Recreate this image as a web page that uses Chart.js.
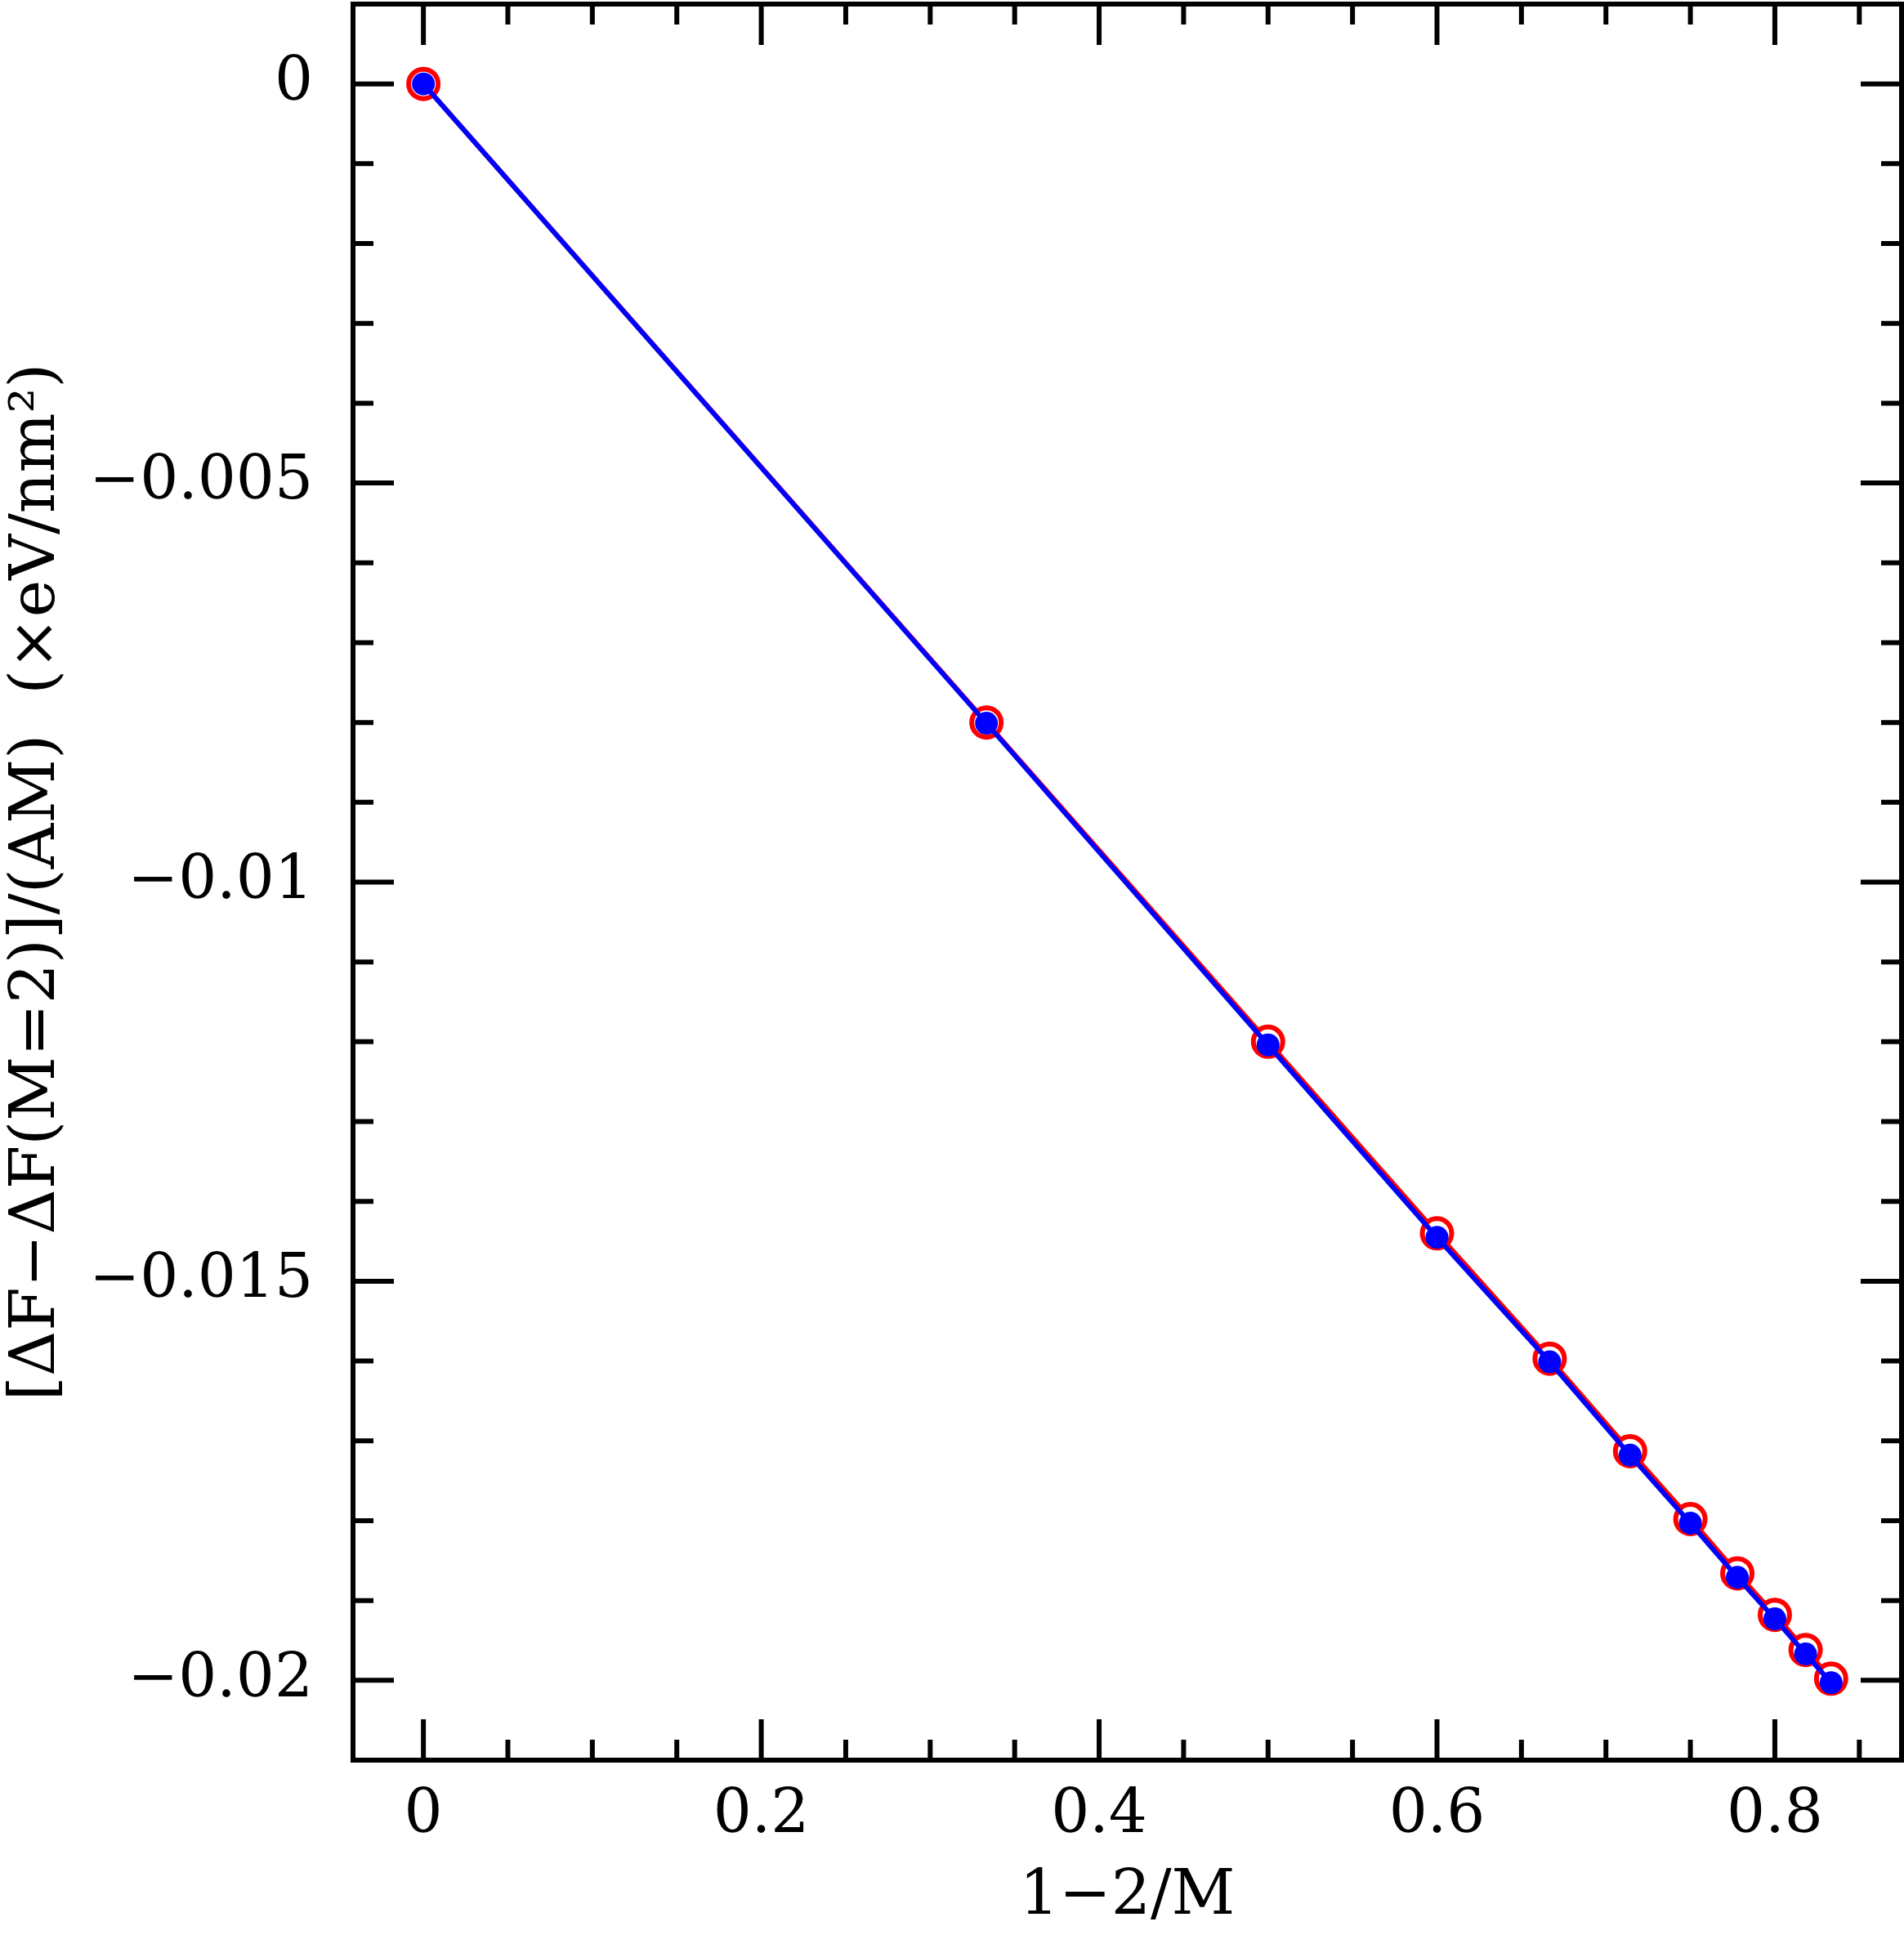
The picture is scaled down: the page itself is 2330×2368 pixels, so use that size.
<!DOCTYPE html>
<html>
<head>
<meta charset="utf-8">
<script src="https://cdn.jsdelivr.net/npm/chart.js@4.4.0/dist/chart.umd.min.js"></script>
<style>
html, body { margin: 0; padding: 0; background: #fff; }
#wrap { width: 2330px; height: 2368px; position: relative; }
</style>
</head>
<body>
<div id="wrap"><canvas id="chart"></canvas></div>
<script>
'use strict';

// data: x = 1-2/M for M = 2..12
var xValues = [0, 0.3333, 0.5, 0.6, 0.6667, 0.7143, 0.75, 0.7778, 0.8, 0.8182, 0.8333];
var redValues = [0, -0.00800, -0.01200, -0.01440, -0.01597, -0.01713, -0.01798, -0.01866, -0.01918, -0.01962, -0.01998];
var blueValues = [0, -0.00801, -0.01204, -0.01445, -0.01601, -0.01718, -0.01803, -0.01871, -0.01923, -0.01967, -0.02003];

var xTicks = [0, 0.2, 0.4, 0.6, 0.8];
var xTickLabels = ['0', '0.2', '0.4', '0.6', '0.8'];
var yTicks = [-0.02, -0.015, -0.01, -0.005, 0];
var yTickLabels = ['\u22120.02', '\u22120.015', '\u22120.01', '\u22120.005', '0'];

var xTitle = '1\u22122/M';
var yTitle = '[\u0394F\u2212\u0394F(M=2)]/(AM)  (\u00D7eV/nm\u00B2)';

var FONT = 'DejaVu Serif';

function points(ys) {
    return xValues.map(function (x, i) { return {x: x, y: ys[i]}; });
}

// ------------------------------------------------------- //
// frame and inward ticks on all four sides
// ------------------------------------------------------ //
var frameTicks = {
    id: 'frameTicks',
    afterDatasetsDraw: function (chart) {
        var ctx = chart.ctx, a = chart.chartArea;
        var xs = chart.scales.x, ys = chart.scales.y;
        var major = 50, minor = 25;
        ctx.save();
        ctx.strokeStyle = '#000';
        ctx.lineWidth = 6;
        ctx.lineCap = 'butt';

        function xTick(v, len) {
            var p = xs.getPixelForValue(v);
            ctx.beginPath();
            ctx.moveTo(p, a.bottom); ctx.lineTo(p, a.bottom - len);
            ctx.moveTo(p, a.top); ctx.lineTo(p, a.top + len);
            ctx.stroke();
        }
        function yTick(v, len) {
            var p = ys.getPixelForValue(v);
            ctx.beginPath();
            ctx.moveTo(a.left, p); ctx.lineTo(a.left + len, p);
            ctx.moveTo(a.right, p); ctx.lineTo(a.right - len, p);
            ctx.stroke();
        }

        var k, v;
        for (k = -1; k <= 18; k++) {
            v = k * 0.05;
            if (k % 4 === 0 || v <= xs.min || v >= xs.max) { continue; }
            xTick(v, minor);
        }
        xTicks.forEach(function (t) { xTick(t, major); });

        for (k = 0; k <= 21; k++) {
            v = -k * 0.001;
            if (k % 5 === 0 || v <= ys.min || v >= ys.max) { continue; }
            yTick(v, minor);
        }
        yTicks.forEach(function (t) { yTick(t, major); });

        ctx.lineJoin = 'miter';
        ctx.strokeRect(a.left, a.top, a.right - a.left, a.bottom - a.top);
        ctx.restore();
    }
};

function noPad(s) {
    s.paddingTop = 0;
    s.paddingBottom = 0;
    s.paddingLeft = 0;
    s.paddingRight = 0;
}

var CHART = document.getElementById('chart');
var myChart = new Chart(CHART, {
    type: 'scatter',
    plugins: [frameTicks],
    data: {
        datasets: [
            {
                label: 'blue',
                data: points(blueValues),
                showLine: true,
                order: 0,
                borderColor: '#0000ff',
                borderWidth: 6,
                pointRadius: 14,
                pointBorderWidth: 0,
                pointBackgroundColor: '#0000ff',
                pointBorderColor: '#0000ff'
            },
            {
                label: 'red',
                data: points(redValues),
                showLine: true,
                order: 1,
                borderColor: '#ff0000',
                borderWidth: 6,
                pointRadius: 18,
                pointBorderWidth: 6,
                pointBackgroundColor: '#ffffff',
                pointBorderColor: '#ff0000'
            }
        ]
    },
    options: {
        animation: false,
        responsive: true,
        maintainAspectRatio: false,
        layout: {autoPadding: false, padding: {top: 5, right: 3, left: 0, bottom: 0}},
        plugins: {
            legend: {display: false},
            tooltip: {enabled: false}
        },
        scales: {
            x: {
                type: 'linear',
                min: -0.04167,
                max: 0.875,
                grid: {display: false, drawTicks: false},
                border: {display: false},
                afterBuildTicks: function (s) {
                    s.ticks = xTicks.map(function (t) { return {value: t}; });
                },
                afterFit: function (s) { s.height = 214; noPad(s); },
                ticks: {
                    autoSkip: false,
                    maxRotation: 0,
                    color: '#000',
                    padding: 24,
                    font: {family: FONT, size: 74},
                    callback: function (val, i) { return xTickLabels[i]; }
                },
                title: {
                    display: true,
                    text: xTitle,
                    color: '#000',
                    padding: 0,
                    font: {family: FONT, size: 76}
                }
            },
            y: {
                type: 'linear',
                min: -0.021,
                max: 0.001,
                grid: {display: false, drawTicks: false},
                border: {display: false},
                afterBuildTicks: function (s) {
                    s.ticks = yTicks.map(function (t) { return {value: t}; });
                },
                afterFit: function (s) { s.width = 432; noPad(s); },
                ticks: {
                    autoSkip: false,
                    color: '#000',
                    padding: 49,
                    font: {family: FONT, size: 74},
                    callback: function (val, i) { return yTickLabels[i]; }
                },
                title: {
                    display: true,
                    text: yTitle,
                    color: '#000',
                    padding: 0,
                    font: {family: FONT, size: 77}
                }
            }
        }
    }
});
</script>
</body>
</html>
